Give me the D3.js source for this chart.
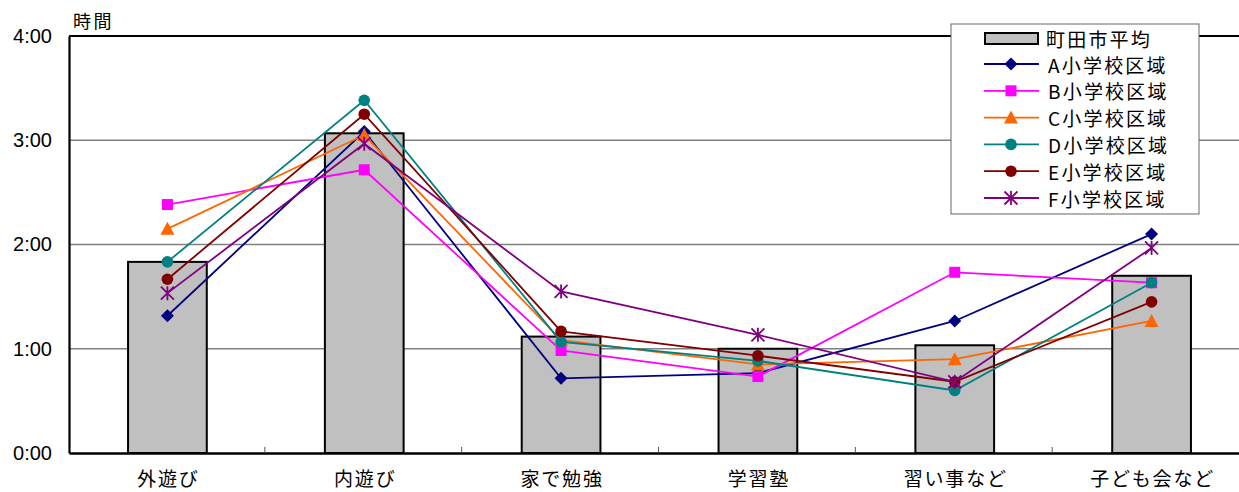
<!DOCTYPE html>
<html lang="ja">
<head>
<meta charset="utf-8">
<script src="https://cdn.jsdelivr.net/npm/d3@7/dist/d3.min.js"></script>
<style>
  html, body { margin: 0; padding: 0; background: #fff; }
  svg { display: block; }
  .jp { font-family: "Noto Sans CJK JP", "Noto Sans", sans-serif; }
  .num { font-family: "Liberation Sans", Arial, sans-serif; }
</style>
</head>
<body>
<svg id="chart" width="1239" height="492"></svg>
<script>
// Categories of activity
const categories = ["外遊び", "内遊び", "家で勉強", "学習塾", "習い事など", "子ども会など"];

// Values in minutes
const cityAverage = [110, 184, 67, 60, 62, 102];
const schoolA = [79, 185, 43, 46, 76, 126];
const schoolB = [143, 163, 59, 44, 104, 98];
const schoolC = [129, 183, 65, 51, 54, 76];
const schoolD = [110, 203, 64, 53, 36, 98];
const schoolE = [100, 195, 70, 56, 41, 87];
const schoolF = [92, 178, 93, 68, 41, 118];

const yTicks = [0, 60, 120, 180, 240];
const barName = "町田市平均";
const seriesNames = ["A小学校区域", "B小学校区域", "C小学校区域", "D小学校区域", "E小学校区域", "F小学校区域"];
const seriesValues = [schoolA, schoolB, schoolC, schoolD, schoolE, schoolF];
const seriesColors = ["#000080", "#ff00ff", "#ff6600", "#008080", "#800000", "#800080"];
const seriesSymbols = ["diamond", "square", "triangle", "circle", "circle", "asterisk"];

const svg = d3.select("#chart");
const plotLeft = 69, plotRight = 1250, plotTop = 36, plotBottom = 453;

const x = d3.scaleBand().domain(categories).range([plotLeft, plotRight]).padding(0);
const y = d3.scaleLinear().domain([0, 240]).range([plotBottom, plotTop]);
const fmt = m => Math.floor(m / 60) + ":" + String(m % 60).padStart(2, "0");

// Gridlines
svg.append("g").selectAll("line")
  .data(yTicks.filter(t => t > 0))
  .join("line")
  .attr("x1", plotLeft).attr("x2", 1239)
  .attr("y1", d => y(d)).attr("y2", d => y(d))
  .attr("stroke", d => d === 240 ? "#000" : "#808080")
  .attr("stroke-width", d => d === 240 ? 2 : 1.3);

// Y axis
const yAxis = svg.append("g")
  .attr("transform", `translate(${plotLeft},0)`)
  .call(d3.axisLeft(y).tickValues(yTicks).tickFormat(fmt).tickSize(0).tickPadding(17));
yAxis.select(".domain").attr("stroke", "#000").attr("stroke-width", 2.2);
yAxis.selectAll("text").attr("class", "num").attr("font-size", 20).attr("fill", "#000");

svg.append("text").attr("class", "jp")
  .attr("x", 73).attr("y", 28)
  .attr("font-size", 18).attr("letter-spacing", 2.5)
  .text("時間");

// Bars for the city average
const barW = x.bandwidth() * 0.4;
svg.append("g").selectAll("rect")
  .data(categories.map((c, i) => ({ c, v: cityAverage[i] })))
  .join("rect")
  .attr("x", d => x(d.c) + (x.bandwidth() - barW) / 2)
  .attr("y", d => y(d.v))
  .attr("width", barW)
  .attr("height", d => y(0) - y(d.v))
  .attr("fill", "#c0c0c0")
  .attr("stroke", "#000")
  .attr("stroke-width", 2);

// X axis
const xAxis = svg.append("g")
  .attr("transform", `translate(0,${plotBottom})`)
  .call(d3.axisBottom(x).tickSize(0).tickPadding(20));
xAxis.select(".domain").attr("stroke", "#000").attr("stroke-width", 2.5);
xAxis.selectAll("text").attr("class", "jp").attr("font-size", 19)
  .attr("letter-spacing", 1.8).attr("dx", 1).attr("fill", "#000");

// Small inner ticks between categories
svg.append("g").selectAll("line")
  .data(categories.slice(1))
  .join("line")
  .attr("x1", d => x(d) - 1).attr("x2", d => x(d) - 1)
  .attr("y1", plotBottom).attr("y2", plotBottom - 6)
  .attr("stroke", "#555").attr("stroke-width", 1);

// Marker drawing
function drawMarker(g, kind, color, cx, cy) {
  if (kind === "diamond") {
    g.append("path").attr("d", `M${cx},${cy - 6.5}L${cx + 6.5},${cy}L${cx},${cy + 6.5}L${cx - 6.5},${cy}Z`)
      .attr("fill", color);
  } else if (kind === "square") {
    g.append("rect").attr("x", cx - 5.5).attr("y", cy - 5.5).attr("width", 11).attr("height", 11)
      .attr("fill", color);
  } else if (kind === "triangle") {
    g.append("path").attr("d", `M${cx},${cy - 7}L${cx + 7},${cy + 6}L${cx - 7},${cy + 6}Z`)
      .attr("fill", color);
  } else if (kind === "circle") {
    g.append("circle").attr("cx", cx).attr("cy", cy).attr("r", 5.8).attr("fill", color);
  } else if (kind === "asterisk") {
    const r = 6.5;
    g.append("path")
      .attr("d", `M${cx - r},${cy - r}L${cx + r},${cy + r}M${cx - r},${cy + r}L${cx + r},${cy - r}M${cx},${cy - r - 0.5}L${cx},${cy + r + 0.5}`)
      .attr("stroke", color).attr("stroke-width", 1.8).attr("fill", "none");
  }
}

// Lines for each school district
const line = d3.line()
  .x((d, i) => x(categories[i]) + x.bandwidth() / 2)
  .y(d => y(d));

seriesValues.forEach((vals, s) => {
  const g = svg.append("g");
  g.append("path").datum(vals)
    .attr("d", line)
    .attr("fill", "none")
    .attr("stroke", seriesColors[s])
    .attr("stroke-width", 1.8);
  vals.forEach((v, i) => {
    drawMarker(g, seriesSymbols[s], seriesColors[s], x(categories[i]) + x.bandwidth() / 2, y(v));
  });
});

// Legend
const lg = svg.append("g");
lg.append("rect").attr("x", 951).attr("y", 24).attr("width", 248).attr("height", 190)
  .attr("fill", "#fff").attr("stroke", "#666").attr("stroke-width", 1);
lg.append("rect").attr("x", 985).attr("y", 33).attr("width", 53).attr("height", 11)
  .attr("fill", "#c0c0c0").attr("stroke", "#000").attr("stroke-width", 2);
lg.append("text").attr("class", "jp").attr("x", 1046).attr("y", 38.5)
  .attr("dominant-baseline", "central").attr("font-size", 19).attr("letter-spacing", 2.2)
  .text(barName);
seriesNames.forEach((name, s) => {
  const cy = 64 + s * 26.8;
  lg.append("line").attr("x1", 984).attr("x2", 1039).attr("y1", cy).attr("y2", cy)
    .attr("stroke", seriesColors[s]).attr("stroke-width", 1.8);
  drawMarker(lg, seriesSymbols[s], seriesColors[s], 1011, cy);
  lg.append("text").attr("class", "jp").attr("x", 1048).attr("y", cy)
    .attr("dominant-baseline", "central").attr("font-size", 19).attr("letter-spacing", 2.2)
    .text(name);
});
</script>
</body>
</html>
